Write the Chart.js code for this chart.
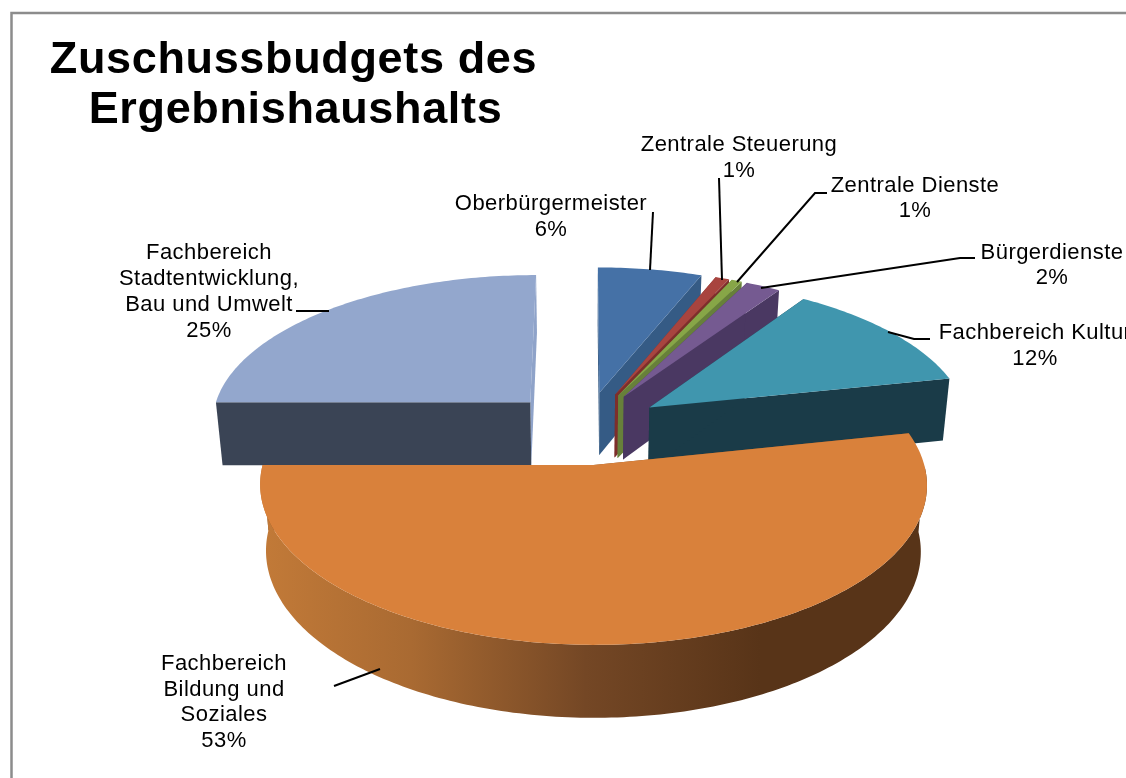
<!DOCTYPE html>
<html>
<head>
<meta charset="utf-8">
<title>Zuschussbudgets des Ergebnishaushalts</title>
<script src="https://cdn.jsdelivr.net/npm/chart.js@4"></script>
<style>
  html, body { margin: 0; background: #fff; overflow: hidden; }
  canvas { display: block; }
</style>
</head>
<body>
<canvas id="chart" width="1126" height="778"></canvas>
<script>
// values, percent of the budget, clockwise from 12 o'clock
const categories = [
  'Oberbürgermeister', 'Zentrale Steuerung', 'Zentrale Dienste', 'Bürgerdienste',
  'Fachbereich Kultur', 'Fachbereich Bildung und Soziales', 'Fachbereich Stadtentwicklung, Bau und Umwelt',
];
const shares = [6, 0.8, 0.6, 2, 12.3, 53.3, 25];

const topColors = ['#4571a6', '#a8443f', '#87a647', '#755a91', '#4096ae', '#d9813b', '#93a7cd'];
const startCutColors = ['#355b85', '#7d2e2b', '#67803a', '#4a3862', '#1a3b48', '#8a5528', '#3a4455'];
const endCutColors = ['#355b85', '#7d2e2b', '#67803a', '#4a3862', '#1a3b48', '#8a5528', '#8fa3c9'];

// label text per slice, centre x and middle y of the first line
const labelLines = [
  ['Oberbürgermeister', '6%'],
  ['Zentrale Steuerung', '1%'],
  ['Zentrale Dienste', '1%'],
  ['Bürgerdienste', '2%'],
  ['Fachbereich Kultur', '12%'],
  ['Fachbereich', 'Bildung und', 'Soziales', '53%'],
  ['Fachbereich', 'Stadtentwicklung,', 'Bau und Umwelt', '25%'],
];
const labelX = [551, 739, 915, 1052, 1035, 224, 209];
const labelY = [204, 145, 186, 253, 333, 664, 253];
const labelStep = [26, 26, 25, 25, 26, 25.7, 26];
const leaders = [
  [[653, 212], [650, 270]],
  [[719, 178], [722, 280]],
  [[827, 193], [815, 193], [737, 282]],
  [[975, 258], [960, 258], [761, 288]],
  [[930, 339], [914, 339], [888, 332]],
  [[334, 686], [380, 669]],
  [[296, 311], [329, 311]],
];
const titleLines = ['Zuschussbudgets des', 'Ergebnishaushalts'];

// 3D look of the old office chart: perspective on the flat pie
const PERSPECTIVE = 2650;
const TILT = 0.462;
const DEPTH = 64;
const BOTTOM_SHRINK = 0.982;

function project(arc, wx, wy, bottom) {
  const s = 1 / (1 - wy / PERSPECTIVE);
  return {
    x: arc.x + wx * s * (bottom ? BOTTOM_SHRINK : 1),
    y: arc.y + TILT * wy * s + (bottom ? DEPTH * Math.pow(s, 0.8) : 0),
  };
}

function rimPoint(arc, angle) {
  const a = apexPoint(arc);
  return {
    wx: a.wx + arc.outerRadius * Math.cos(angle),
    wy: a.wy + arc.outerRadius * Math.sin(angle),
  };
}

function apexPoint(arc) {
  const mid = (arc.startAngle + arc.endAngle) / 2;
  const d = arc.options.offset / 4;
  return { wx: d * Math.cos(mid), wy: d * Math.sin(mid) };
}

function fillPath(ctx, points, color) {
  ctx.beginPath();
  points.forEach((p, i) => (i ? ctx.lineTo(p.x, p.y) : ctx.moveTo(p.x, p.y)));
  ctx.closePath();
  ctx.fillStyle = color;
  ctx.fill();
}

function drawCut(ctx, arc, angle, color) {
  const a = apexPoint(arc);
  const r = rimPoint(arc, angle);
  fillPath(ctx, [
    project(arc, a.wx, a.wy, false),
    project(arc, r.wx, r.wy, false),
    project(arc, r.wx, r.wy, true),
    project(arc, a.wx, a.wy, true),
  ], color);
}

function drawSlice(ctx, arc, index) {
  const steps = Math.max(4, Math.ceil((arc.endAngle - arc.startAngle) * 60));
  const top = [];
  const rimTop = [];
  const rimLow = [];
  for (let i = 0; i <= steps; i++) {
    const angle = arc.startAngle + (arc.endAngle - arc.startAngle) * i / steps;
    const r = rimPoint(arc, angle);
    top.push(project(arc, r.wx, r.wy, false));
    // the outer wall only shows on the half that faces the viewer
    if (Math.sin(angle) >= 0) {
      rimTop.push(project(arc, r.wx, r.wy, false));
      rimLow.push(project(arc, r.wx, r.wy, true));
    }
  }
  drawCut(ctx, arc, arc.endAngle, endCutColors[index]);
  drawCut(ctx, arc, arc.startAngle, startCutColors[index]);

  if (rimTop.length > 2) {
    const rim = ctx.createLinearGradient(262, 0, 760, 0);
    rim.addColorStop(0, '#c27a38');
    rim.addColorStop(0.3, '#a96a32');
    rim.addColorStop(0.65, '#744725');
    rim.addColorStop(1, '#583418');
    fillPath(ctx, rimTop.concat(rimLow.reverse()), rim);
  }

  const a = apexPoint(arc);
  fillPath(ctx, [project(arc, a.wx, a.wy, false)].concat(top), topColors[index]);
}

const pie3d = {
  id: 'pie3d',
  beforeDraw(chart) {
    const { ctx } = chart;
    ctx.save();
    ctx.strokeStyle = '#8c8c8c';
    ctx.lineWidth = 2.5;
    ctx.beginPath();
    ctx.moveTo(11.5, 790);
    ctx.lineTo(11.5, 13);
    ctx.lineTo(1140, 13);
    ctx.stroke();
    ctx.restore();
  },
  beforeDatasetDraw(chart, args) {
    const { ctx } = chart;
    const arcs = args.meta.data;
    // back slices first, Stadtentwicklung is furthest away, Bildung in front
    const order = [6, 0, 1, 2, 3, 4, 5];
    ctx.save();
    order.forEach((i) => drawSlice(ctx, arcs[i], i));
    ctx.restore();
    return false;
  },
  afterDatasetsDraw(chart) {
    const { ctx } = chart;
    ctx.save();
    ctx.strokeStyle = '#000';
    ctx.lineWidth = 2;
    leaders.forEach((pts) => {
      ctx.beginPath();
      pts.forEach((p, i) => (i ? ctx.lineTo(p[0], p[1]) : ctx.moveTo(p[0], p[1])));
      ctx.stroke();
    });

    ctx.fillStyle = '#000';
    ctx.textAlign = 'center';
    ctx.textBaseline = 'middle';
    ctx.font = '22px "Liberation Sans"';
    ctx.letterSpacing = '0.45px';
    labelLines.forEach((lines, i) => {
      lines.forEach((line, j) => ctx.fillText(line, labelX[i], labelY[i] + j * labelStep[i]));
    });

    ctx.font = 'bold 45px "Liberation Sans"';
    ctx.letterSpacing = '0.65px';
    ctx.fillText(titleLines[0], 293.5, 61);
    ctx.fillText(titleLines[1], 295.5, 111);
    ctx.restore();
  },
};

new Chart(document.getElementById('chart'), {
  type: 'pie',
  data: {
    labels: categories,
    datasets: [{
      data: shares,
      backgroundColor: topColors,
      borderWidth: 0,
      offset: 316, // chart.js moves an arc by offset / 4
    }],
  },
  options: {
    responsive: false,
    animation: false,
    radius: 321,
    layout: { padding: { left: 44, top: 77 } },
    plugins: {
      legend: { display: false },
      tooltip: { enabled: false },
    },
  },
  plugins: [pie3d],
});
</script>
</body>
</html>
